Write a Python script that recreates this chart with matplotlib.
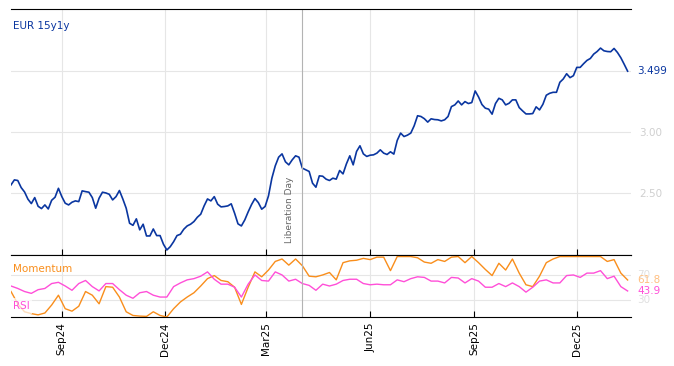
import pandas as pd
import matplotlib.pyplot as plt
import matplotlib.dates as mdates

# EUR 15y1y level, read every 3 days from 2024-07-18
rate = [2.568, 2.609, 2.604, 2.546, 2.510, 2.451, 2.415, 2.464, 2.393, 2.374,
        2.404, 2.371, 2.442, 2.467, 2.540, 2.472, 2.418, 2.404, 2.426, 2.437,
        2.431, 2.519, 2.513, 2.508, 2.464, 2.377, 2.459, 2.508, 2.502, 2.491,
        2.445, 2.472, 2.522, 2.453, 2.377, 2.254, 2.237, 2.290, 2.200, 2.246,
        2.150, 2.150, 2.207, 2.153, 2.153, 2.082, 2.035, 2.062, 2.103, 2.153,
        2.164, 2.205, 2.232, 2.246, 2.268, 2.303, 2.328, 2.396, 2.453, 2.437,
        2.472, 2.410, 2.388, 2.391, 2.396, 2.413, 2.336, 2.249, 2.232, 2.281,
        2.347, 2.407, 2.456, 2.423, 2.369, 2.391, 2.478, 2.623, 2.724, 2.795,
        2.822, 2.757, 2.732, 2.773, 2.806, 2.795, 2.705, 2.691, 2.678, 2.582,
        2.549, 2.642, 2.639, 2.615, 2.604, 2.623, 2.615, 2.686, 2.658, 2.740,
        2.806, 2.732, 2.842, 2.888, 2.822, 2.801, 2.811, 2.814, 2.828, 2.855,
        2.828, 2.817, 2.839, 2.820, 2.932, 2.992, 2.964, 2.975, 2.992, 3.052,
        3.134, 3.128, 3.110, 3.082, 3.109, 3.103, 3.101, 3.092, 3.101, 3.128,
        3.209, 3.223, 3.255, 3.223, 3.250, 3.234, 3.242, 3.337, 3.288, 3.226,
        3.196, 3.188, 3.147, 3.234, 3.277, 3.264, 3.223, 3.236, 3.264, 3.264,
        3.201, 3.174, 3.149, 3.149, 3.152, 3.207, 3.182, 3.228, 3.302, 3.318,
        3.326, 3.326, 3.408, 3.435, 3.478, 3.446, 3.462, 3.530, 3.530, 3.560,
        3.587, 3.603, 3.639, 3.660, 3.688, 3.666, 3.660, 3.658, 3.685, 3.652,
        3.609, 3.555, 3.499]
rate_dates = pd.date_range("2024-07-18", periods=len(rate), freq="3D")

# indicators, read every 6 days
momentum = [43, 23, 10, 7, 5, 8, 21, 37, 15, 11, 19, 43, 37, 23, 51, 50, 34, 10,
            4, 3, 2.5, 10, 4, 1.5, 15, 26, 34, 41, 52, 64, 69, 61, 59, 50, 22, 50,
            75, 67, 78, 92, 96, 86, 96, 85, 68, 67, 70, 74, 62, 90, 93, 94, 97, 95,
            99, 99, 77, 100, 100, 100, 98, 91, 89, 95, 92, 99, 100, 90, 100, 90, 79,
            69, 89, 78, 96, 73, 54, 51, 68, 90, 96, 100, 100, 100, 100, 100, 100,
            100, 92, 95, 73, 61.8]
rsi = [52, 48, 43, 40, 46, 48, 56, 58, 52, 45, 56, 61, 51, 44, 56, 56, 46, 37,
       32, 41, 43, 37, 34, 34, 51, 57, 62, 64, 68, 75, 63, 55, 55, 50, 34, 55,
       70, 61, 60, 75, 70, 60, 63, 56, 53, 45, 55, 52, 55, 61, 63, 63, 56, 54,
       55, 54, 54, 62, 59, 64, 67, 66, 60, 60, 57, 66, 65, 57, 64, 60, 50, 50,
       56, 51, 57, 51, 42, 50, 60, 62, 57, 57, 69, 70, 66, 73, 73, 77, 64, 68,
       51, 43.9]
ind_dates = pd.date_range("2024-07-18", periods=len(rsi), freq="6D")

month_ticks = pd.to_datetime(["2024-09-01", "2024-12-01", "2025-03-01",
                              "2025-06-01", "2025-09-01", "2025-12-01"])
lib_day = pd.Timestamp("2025-04-02")

blue = "#0a36a0"
orange = "#f98e1c"
pink = "#ff4fd8"
grid = "#e6e6e6"
light = "#cfcfcf"

fig = plt.figure(figsize=(6.74, 3.66), dpi=100)
ax = fig.add_axes([11/674, 1 - 255/366, 620/674, 246/366])
ax2 = fig.add_axes([11/674, 1 - 317/366, 620/674, 62/366], sharex=ax)

xmin, xmax = pd.Timestamp("2024-07-18"), pd.Timestamp("2026-01-18")

# main panel
ax.plot(rate_dates, rate, color=blue, lw=1.2)
ax.set_ylim(1.994, 4.008)
ax.set_xlim(xmin, xmax)
ax.set_yticks([2.5, 3.0, 3.5])
ax.set_yticklabels(["2.50", "3.00", ""])
ax.yaxis.tick_right()
ax.tick_params(axis="y", length=0, labelsize=7.5, labelcolor=light, pad=6)
ax.set_xticks(month_ticks)
ax.tick_params(axis="x", direction="in", length=4, labelbottom=False)
ax.grid(True, color=grid, lw=0.8)
for s in ["left", "right"]:
    ax.spines[s].set_visible(False)
ax.axvline(lib_day, color="#b3b3b3", lw=0.8)
ax.annotate("Liberation Day", xy=(lib_day, 2.09), xytext=(-6, 0),
            textcoords="offset points", rotation=90, ha="right", va="bottom",
            fontsize=6.5, color="#666666")
ax.text(0.003, 0.93, "EUR 15y1y", transform=ax.transAxes, color=blue,
        fontsize=7.5, va="center")
ax.text(1.01, rate[-1], f"{rate[-1]:.3f}", transform=ax.get_yaxis_transform(),
        color=blue, fontsize=7.5, va="center", backgroundcolor="white")

# indicator panel
ax2.plot(ind_dates, momentum, color=orange, lw=1.0)
ax2.plot(ind_dates, rsi, color=pink, lw=1.0)
ax2.set_ylim(1.5, 102.5)
ax2.set_yticks([30, 70])
ax2.set_yticklabels([])
ax2.tick_params(axis="y", length=0)
ax2.grid(True, color=grid, lw=0.8)
for s in ["left", "right"]:
    ax2.spines[s].set_visible(False)
ax2.axvline(lib_day, color="#b3b3b3", lw=0.8)
ax2.xaxis.set_major_formatter(mdates.DateFormatter("%b%y"))
ax2.tick_params(axis="x", direction="in", length=4, labelsize=7.5,
                labelrotation=90, pad=4)

ax2.text(0.003, 0.78, "Momentum", transform=ax2.transAxes, color=orange,
         fontsize=7.5, va="center")
ax2.text(0.003, 0.18, "RSI", transform=ax2.transAxes, color=pink,
         fontsize=7.5, va="center",
         bbox=dict(facecolor="white", edgecolor="none", alpha=0.7, pad=2))

yt = ax2.get_yaxis_transform()
ax2.text(1.01, 70, "70", transform=yt, color="#e0e0e0", fontsize=7.5, va="center")
ax2.text(1.01, 30, "30", transform=yt, color="#e0e0e0", fontsize=7.5, va="center")
ax2.text(1.01, momentum[-1], f"{momentum[-1]:.1f}", transform=yt,
         color="#ffbf80", fontsize=7.5, va="center")
ax2.text(1.01, rsi[-1], f"{rsi[-1]:.1f}", transform=yt, color=pink,
         fontsize=7.5, va="center")

fig.savefig("out.png", dpi=100)
